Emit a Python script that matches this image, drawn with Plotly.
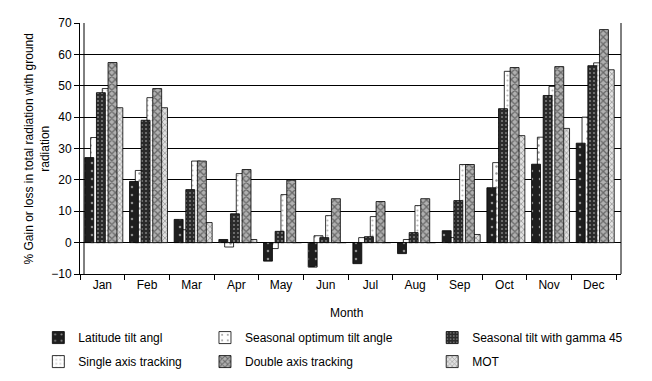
import plotly.graph_objects as go

months = ["Jan", "Feb", "Mar", "Apr", "May", "Jun", "Jul", "Aug", "Sep", "Oct", "Nov", "Dec"]

latitude_tilt = [27.1, 19.5, 7.4, 1.0, -5.9, -7.8, -6.7, -3.5, 3.8, 17.5, 25.0, 31.7]
seasonal_optimum = [33.5, 23.0, 4.1, -1.4, -1.9, 2.2, 1.6, 1.0, 1.6, 25.5, 33.6, 40.0]
seasonal_gamma45 = [47.8, 39.0, 16.9, 9.2, 3.6, 1.6, 1.9, 3.2, 13.4, 42.7, 46.9, 56.4]
single_axis = [49.1, 46.2, 26.0, 22.0, 15.3, 8.6, 8.3, 11.8, 24.9, 54.6, 49.8, 57.3]
double_axis = [57.4, 49.1, 26.0, 23.3, 19.9, 14.0, 13.1, 14.0, 24.9, 55.8, 56.1, 67.9]
mot = [43.0, 43.0, 6.4, 1.0, 0, 0, 0, 0, 2.6, 34.1, 36.4, 55.1]

series_names = [
    "Latitude tilt angl",
    "Seasonal optimum tilt angle",
    "Seasonal tilt with gamma 45",
    "Single axis tracking",
    "Double axis tracking",
    "MOT",
]
series_values = [latitude_tilt, seasonal_optimum, seasonal_gamma45, single_axis, double_axis, mot]

patterns = [
    dict(shape=".", bgcolor="#1e1e1e", fgcolor="#ffffff", size=8, solidity=0.08),
    dict(shape=".", bgcolor="#ffffff", fgcolor="#333333", size=7, solidity=0.1),
    dict(shape=".", bgcolor="#2a2a2a", fgcolor="#d8d8d8", size=4, solidity=0.2),
    dict(shape=".", bgcolor="#ffffff", fgcolor="#777777", size=5, solidity=0.15),
    dict(shape="x", bgcolor="#b0b0b0", fgcolor="#222222", size=5, solidity=0.45),
    dict(shape="x", bgcolor="#e0e0e0", fgcolor="#555555", size=4, solidity=0.35),
]
legend_ids = ["legend", "legend2", "legend3", "legend", "legend2", "legend3"]
ranks = [1, 1, 1, 2, 2, 2]

step = 0.13
bar_w = 0.2
start = -0.392

FONT = "Liberation Sans, Arial, sans-serif"

fig = go.Figure()
draw_order = [1, 3, 5, 0, 2, 4]
for i in draw_order:
    fig.add_trace(go.Bar(
        x=months,
        y=series_values[i],
        name=series_names[i],
        offset=start + step * i,
        width=bar_w,
        marker=dict(pattern=patterns[i], line=dict(color="#000000", width=0.8)),
        legend=legend_ids[i],
        legendgroup=series_names[i],
        legendrank=ranks[i],
    ))

leg_common = dict(
    orientation="v", yanchor="top", xanchor="left", y=0.152,
    xref="paper", yref="container",
    bgcolor="rgba(0,0,0,0)", font=dict(family=FONT, size=12, color="#000000"),
    traceorder="grouped", tracegroupgap=5,
)

fig.update_layout(
    width=652, height=381,
    margin=dict(l=80, r=31, t=23, b=107),
    paper_bgcolor="white", plot_bgcolor="white",
    barmode="overlay",
    font=dict(family=FONT, size=12, color="#000000"),
    legend=dict(x=-0.077, **leg_common),
    legend2=dict(x=0.231, **leg_common),
    legend3=dict(x=0.651, **leg_common),
    xaxis=dict(
        type="category", categoryorder="array", categoryarray=months,
        range=[-0.5, 11.61], tickson="boundaries", ticks="outside", ticklen=5,
        tickcolor="#000000", showline=True, linecolor="#000000", linewidth=1,
        showgrid=False, tickfont=dict(size=12), automargin=False,
    ),
    yaxis=dict(
        range=[-10, 70], dtick=10, tick0=0, ticks="outside", ticklen=5,
        tickcolor="#000000", showline=True, linecolor="#000000", linewidth=1,
        showgrid=True, gridcolor="#000000", gridwidth=1,
        zeroline=True, zerolinecolor="#000000", zerolinewidth=1,
        tickfont=dict(size=12), automargin=False,
    ),
    shapes=[
        dict(type="line", xref="paper", yref="paper", x0=4 / 541, x1=4 / 541, y0=0, y1=1,
             line=dict(color="#000000", width=1)),
        dict(type="line", xref="paper", yref="paper", x0=1, x1=1, y0=0, y1=1,
             line=dict(color="#000000", width=1)),
    ],
    annotations=[
        dict(text="Month", xref="paper", yref="paper", x=0.4917, y=-0.155,
             xanchor="center", yanchor="middle", showarrow=False, font=dict(size=12)),
        dict(text="% Gain or loss in total radiation with ground<br>radiation",
             xref="paper", yref="paper", x=-0.0795, y=0.5, textangle=-90,
             xanchor="center", yanchor="middle", showarrow=False, font=dict(size=12)),
    ],
)

fig.write_html(
    "out.html",
    config={"displayModeBar": False},
    post_script="document.body.style.margin='0px';document.body.style.padding='0px';",
)
